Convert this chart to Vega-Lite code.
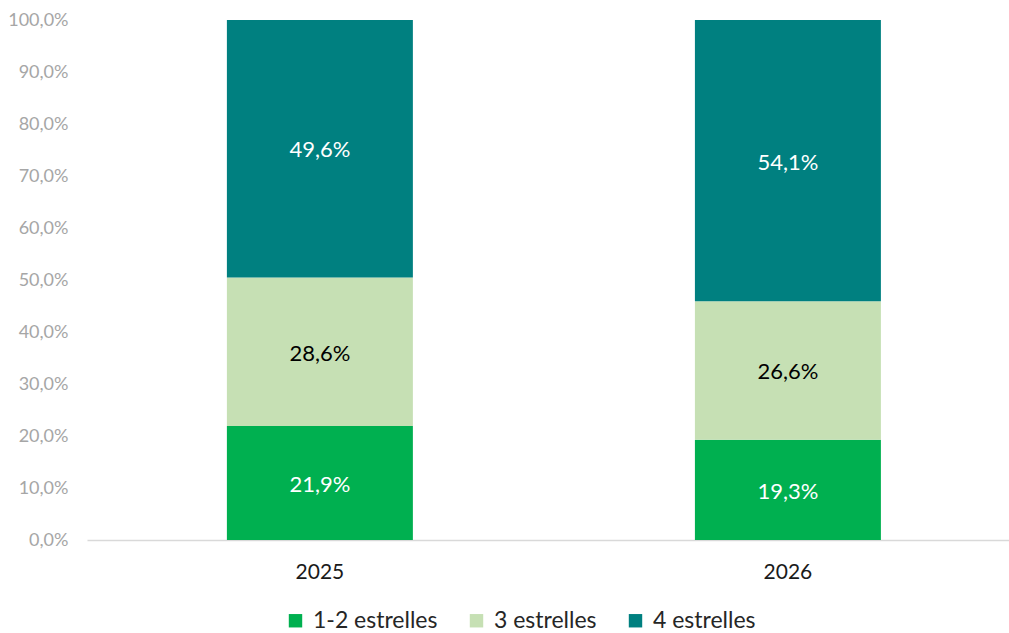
{
  "$schema": "https://vega.github.io/schema/vega-lite/v6.json",
  "width": 922,
  "height": 520,
  "autosize": {"type": "none"},
  "padding": {"left": 87, "top": 20, "right": 0, "bottom": 93},
  "config": {
    "locale": {"number": {"decimal": ",", "thousands": ".", "grouping": [3], "currency": ["", " €"]}},
    "view": {"stroke": null},
    "font": "Lato"
  },
  "data": {
    "values": [
      {"year": "2025", "category": "1-2 estrelles", "ord": 1, "value": 0.219},
      {"year": "2025", "category": "3 estrelles", "ord": 2, "value": 0.286},
      {"year": "2025", "category": "4 estrelles", "ord": 3, "value": 0.496},
      {"year": "2026", "category": "1-2 estrelles", "ord": 1, "value": 0.193},
      {"year": "2026", "category": "3 estrelles", "ord": 2, "value": 0.266},
      {"year": "2026", "category": "4 estrelles", "ord": 3, "value": 0.541}
    ]
  },
  "encoding": {
    "x": {
      "field": "year",
      "type": "ordinal",
      "scale": {"paddingInner": 0.6026, "paddingOuter": 0.2863, "align": 0.522},
      "axis": {
        "title": null,
        "labelAngle": 0,
        "ticks": false,
        "domainColor": "#d9d9d9",
        "domainWidth": 1.5,
        "labelFontSize": 21,
        "labelColor": "#1a1a1a",
        "labelPadding": 21
      }
    }
  },
  "layer": [
    {
      "mark": {"type": "bar"},
      "encoding": {
        "y": {
          "field": "value",
          "type": "quantitative",
          "stack": "zero",
          "scale": {"domain": [0, 1], "clamp": true, "nice": false},
          "axis": {
            "title": null,
            "domain": false,
            "ticks": false,
            "grid": false,
            "format": ".1%",
            "values": [0, 0.1, 0.2, 0.3, 0.4, 0.5, 0.6, 0.7, 0.8, 0.9, 1.0],
            "labelFontSize": 18,
            "labelColor": "#a6a6a6",
            "labelPadding": 19
          }
        },
        "color": {
          "field": "category",
          "type": "nominal",
          "scale": {
            "domain": ["1-2 estrelles", "3 estrelles", "4 estrelles"],
            "range": ["#00b050", "#c6e0b4", "#008080"]
          },
          "legend": {
            "title": null,
            "orient": "none",
            "direction": "horizontal",
            "legendX": 197,
            "legendY": 589,
            "symbolType": "square",
            "symbolSize": 180,
            "symbolStrokeWidth": 0,
            "symbolOpacity": 1,
            "labelFontSize": 23,
            "labelColor": "#262626",
            "labelOffset": 6,
            "columnPadding": 27
          }
        },
        "order": {"field": "ord", "type": "quantitative"}
      }
    },
    {
      "transform": [
        {"stack": "value", "groupby": ["year"], "sort": [{"field": "ord"}], "as": ["v0", "v1"]},
        {"calculate": "(datum.v0 + datum.v1) / 2", "as": "mid"}
      ],
      "mark": {"type": "text", "fontSize": 22, "baseline": "middle", "align": "center", "dy": 2},
      "encoding": {
        "y": {"field": "mid", "type": "quantitative"},
        "text": {"field": "value", "type": "quantitative", "format": ".1%"},
        "color": {
          "condition": {"test": "datum.category === '3 estrelles'", "value": "#000000"},
          "value": "#ffffff"
        }
      }
    }
  ]
}
